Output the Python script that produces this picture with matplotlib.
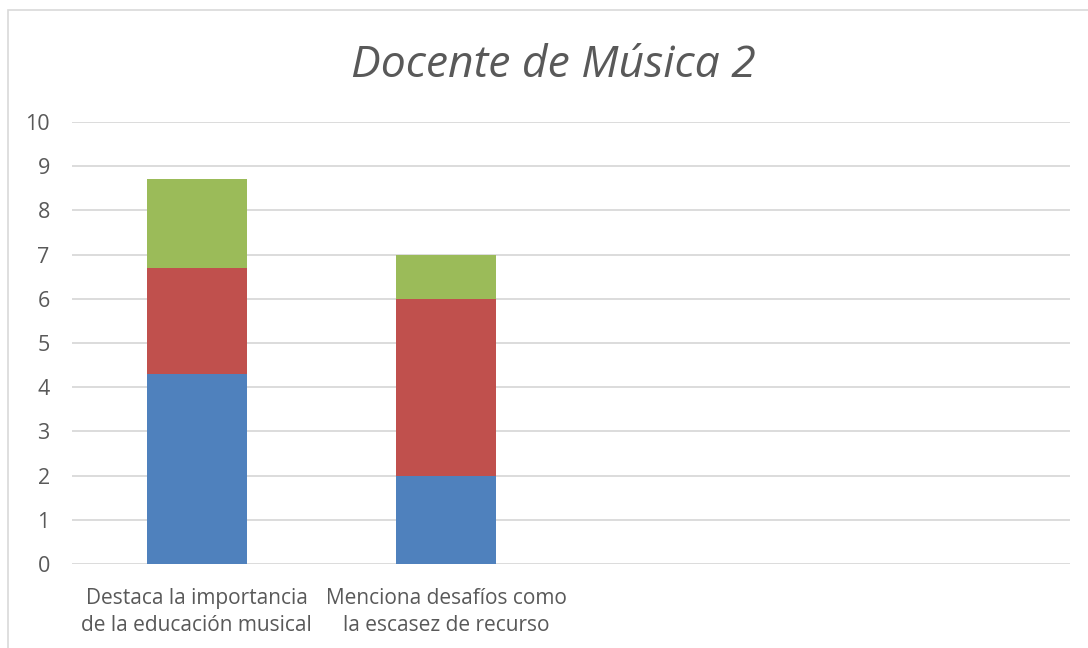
import matplotlib
matplotlib.use("Agg")
import matplotlib.pyplot as plt
from matplotlib.patches import Rectangle

# datos
categorias = ['Destaca la importancia\nde la educación musical',
              'Menciona desafíos como\nla escasez de recurso', '', '']
serie1 = [4.3, 2.0, 0, 0]
serie2 = [2.4, 4.0, 0, 0]
serie3 = [2.0, 1.0, 0, 0]
titulo = 'Docente de Música 2'
yticks = list(range(0, 11))

gris = '#595959'
plt.rcParams['font.family'] = ['Open Sans', 'DejaVu Sans']

fig = plt.figure(figsize=(10.88, 6.48), dpi=100)
fig.patches.append(Rectangle((8 / 1088, -0.1), 1.2, 1 - 10 / 648 + 0.1,
                             transform=fig.transFigure, fill=False,
                             edgecolor='#d9d9d9', linewidth=1.2))
ax = fig.add_axes([72 / 1088, 84 / 648, 998 / 1088, 442 / 648])

x = list(range(len(categorias)))
base2 = serie1
base3 = [a + b for a, b in zip(serie1, serie2)]
ax.bar(x, serie1, width=0.4, color='#4F81BD', zorder=3)
ax.bar(x, serie2, width=0.4, bottom=base2, color='#C0504D', zorder=3)
ax.bar(x, serie3, width=0.4, bottom=base3, color='#9BBB59', zorder=3)

ax.set_xlim(-0.5, len(categorias) - 0.5)
ax.set_ylim(0, 10)
ax.set_yticks(yticks)
ax.set_xticks(x)
ax.set_xticklabels(categorias, fontsize=15, color=gris, linespacing=1.42)
ax.tick_params(axis='y', length=0, pad=16, labelsize=15.5, labelcolor=gris)
ax.tick_params(axis='x', length=0, pad=17)
ax.grid(axis='y', color='#d9d9d9', linewidth=1.3, zorder=0)
for s in ax.spines.values():
    s.set_visible(False)

fig.text(553 / 1088, 1 - 66 / 648, titulo, ha='center', va='center',
         fontsize=32, style='italic', color=gris)

fig.savefig('out.png', dpi=100)
